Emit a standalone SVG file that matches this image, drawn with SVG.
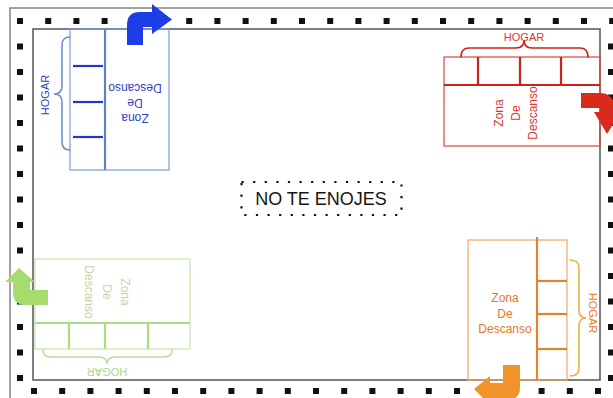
<svg xmlns="http://www.w3.org/2000/svg" width="613" height="398" viewBox="0 0 613 398">
<defs>
<style>
text{font-family:"Liberation Sans","Open Sans",Arial,sans-serif}
.dot{fill:#111}
.frame{fill:none;stroke:#8a8a8a;stroke-width:1.6}
.inner{fill:none;stroke:#555;stroke-width:1.5}
.lbl{font-size:12px;text-anchor:middle;dominant-baseline:central}
.hog{font-size:11px;text-anchor:middle;dominant-baseline:central}
.thin{fill:none;stroke-width:1.2}
.thick{fill:none;stroke-width:2.2}
.brace{fill:none;stroke-width:1.6;stroke-linecap:round}
</style>
<rect id="d" x="-3" y="-3" width="6" height="6" class="dot"/>
</defs>
<rect x="0" y="0" width="613" height="398" fill="#fff"/>
<g id="frame">
<rect x="10" y="8" width="620" height="420" class="frame"/>
<rect x="33" y="29" width="567" height="351" class="inner"/>
<g id="dots-top">
<use href="#d" x="20" y="21"/><use href="#d" x="48.2" y="21"/><use href="#d" x="76.4" y="21"/><use href="#d" x="104.6" y="21"/><use href="#d" x="132.8" y="21"/><use href="#d" x="161" y="21"/><use href="#d" x="189.2" y="21"/><use href="#d" x="217.4" y="21"/><use href="#d" x="245.6" y="21"/><use href="#d" x="273.8" y="21"/><use href="#d" x="302" y="21"/><use href="#d" x="330.2" y="21"/><use href="#d" x="358.4" y="21"/><use href="#d" x="386.6" y="21"/><use href="#d" x="414.8" y="21"/><use href="#d" x="443" y="21"/><use href="#d" x="471.2" y="21"/><use href="#d" x="499.4" y="21"/><use href="#d" x="527.6" y="21"/><use href="#d" x="555.8" y="21"/><use href="#d" x="584" y="21"/><use href="#d" x="612.2" y="21"/>
</g>
<g id="dots-left">
<use href="#d" x="20" y="46.5"/><use href="#d" x="20" y="72"/><use href="#d" x="20" y="97.5"/><use href="#d" x="20" y="123"/><use href="#d" x="20" y="148.5"/><use href="#d" x="20" y="174"/><use href="#d" x="20" y="199.5"/><use href="#d" x="20" y="225"/><use href="#d" x="20" y="250.5"/><use href="#d" x="20" y="276"/><use href="#d" x="20" y="301.5"/><use href="#d" x="20" y="327"/><use href="#d" x="20" y="352.5"/><use href="#d" x="20" y="378"/>
</g>
<g id="dots-right">
<use href="#d" x="611" y="46.5"/><use href="#d" x="611" y="72"/><use href="#d" x="611" y="97.5"/><use href="#d" x="611" y="123"/><use href="#d" x="611" y="148.5"/><use href="#d" x="611" y="174"/><use href="#d" x="611" y="199.5"/><use href="#d" x="611" y="225"/><use href="#d" x="611" y="250.5"/><use href="#d" x="611" y="276"/><use href="#d" x="611" y="301.5"/><use href="#d" x="611" y="327"/><use href="#d" x="611" y="352.5"/><use href="#d" x="611" y="378"/>
</g>
<g id="dots-bottom">
<use href="#d" x="34" y="391"/><use href="#d" x="62.2" y="391"/><use href="#d" x="90.4" y="391"/><use href="#d" x="118.6" y="391"/><use href="#d" x="146.8" y="391"/><use href="#d" x="175" y="391"/><use href="#d" x="203.2" y="391"/><use href="#d" x="231.4" y="391"/><use href="#d" x="259.6" y="391"/><use href="#d" x="287.8" y="391"/><use href="#d" x="316" y="391"/><use href="#d" x="344.2" y="391"/><use href="#d" x="372.4" y="391"/><use href="#d" x="400.6" y="391"/><use href="#d" x="428.8" y="391"/><use href="#d" x="457" y="391"/><use href="#d" x="485.2" y="391"/><use href="#d" x="513.4" y="391"/><use href="#d" x="541.6" y="391"/><use href="#d" x="569.8" y="391"/><use href="#d" x="598" y="391"/>
</g>
</g>

<g id="node-blue">
<rect x="70" y="29" width="99" height="141" class="thin" stroke="#7b9bd6"/>
<line x1="105" y1="29" x2="105" y2="170" class="thick" stroke="#5f82c2"/>
<line x1="73" y1="66" x2="103" y2="66" class="thick" stroke="#2436c8"/>
<line x1="73" y1="102" x2="103" y2="102" class="thick" stroke="#2436c8"/>
<line x1="73" y1="137" x2="103" y2="137" class="thick" stroke="#2436c8"/>
<path d="M70,37 Q62,37 62,45 L62,86 Q62,94 54,94 Q62,94 62,102 L62,142 Q62,150 70,150" class="brace" stroke="#6f8fcc"/>
<text class="hog" x="45" y="95" fill="#2f3fc0" transform="rotate(-90 45 95)">HOGAR</text>
<text class="lbl" fill="#2f3fc0" transform="rotate(180 135 103)"><tspan x="135" y="88">Zona</tspan><tspan x="135" y="103">De</tspan><tspan x="135" y="118">Descanso</tspan></text>
</g>

<g id="node-red">
<rect x="444" y="57" width="156" height="89" class="thin" stroke="#d8463e"/>
<line x1="444" y1="85" x2="600" y2="85" class="thick" stroke="#c9231c"/>
<line x1="478" y1="57" x2="478" y2="85" class="thick" stroke="#c9231c"/>
<line x1="520" y1="57" x2="520" y2="85" class="thick" stroke="#c9231c"/>
<line x1="561" y1="57" x2="561" y2="85" class="thick" stroke="#c9231c"/>
<path d="M461,57 Q461,48 469,48 L516,48 Q524,48 524,40 Q524,48 532,48 L580,48 Q588,48 588,57" class="brace" stroke="#c9231c"/>
<text class="hog" x="524" y="37" fill="#d83a30">HOGAR</text>
<text class="lbl" fill="#d83a30" transform="rotate(-90 516 113)"><tspan x="516" y="96">Zona</tspan><tspan x="516" y="113">De</tspan><tspan x="516" y="130">Descanso</tspan></text>
</g>

<g id="node-orange">
<rect x="468" y="240" width="99" height="140" class="thin" stroke="#f0a868"/>
<line x1="537" y1="237" x2="537" y2="380" class="thick" stroke="#e0852a"/>
<line x1="537" y1="281" x2="567" y2="281" class="thick" stroke="#e0852a"/>
<line x1="537" y1="314" x2="567" y2="314" class="thick" stroke="#e0852a"/>
<line x1="537" y1="349" x2="567" y2="349" class="thick" stroke="#e0852a"/>
<path d="M570,260 Q579,260 579,268 L579,310 Q579,318 586,318 Q579,318 579,326 L579,368 Q579,376 570,376" class="brace" stroke="#f0b040"/>
<text class="hog" x="593" y="313" fill="#e8762a" transform="rotate(90 593 313)">HOGAR</text>
<text class="lbl" fill="#e8762a"><tspan x="505" y="298">Zona</tspan><tspan x="505" y="313.5">De</tspan><tspan x="505" y="329">Descanso</tspan></text>
</g>

<g id="node-green">
<rect x="35" y="259" width="155" height="90" class="thin" stroke="#c4e6a8"/>
<line x1="35" y1="323" x2="190" y2="323" class="thick" stroke="#aadc80"/>
<line x1="69" y1="323" x2="69" y2="349" class="thick" stroke="#aadc80"/>
<line x1="105" y1="323" x2="105" y2="349" class="thick" stroke="#aadc80"/>
<line x1="148" y1="323" x2="148" y2="349" class="thick" stroke="#aadc80"/>
<path d="M43,350 Q43,357 51,357 L99,357 Q107,357 107,364 Q107,357 115,357 L164,357 Q172,357 172,350" class="brace" stroke="#b8e09a"/>
<text class="hog" x="107" y="372" fill="#a8d880" transform="rotate(180 107 372)">HOGAR</text>
<text class="lbl" fill="#c8d6a6" transform="rotate(90 107 292)"><tspan x="107" y="274">Zona</tspan><tspan x="107" y="292">De</tspan><tspan x="107" y="310">Descanso</tspan></text>
</g>

<g id="node-title">
<rect x="241.5" y="182" width="160" height="33" fill="none" stroke="#111" stroke-width="2.2" stroke-dasharray="2.2 9.4"/>
<text x="321" y="205" font-size="18" text-anchor="middle" fill="#151515">NO TE ENOJES</text>
</g>

<g id="connectors">
<path id="arrow-blue" d="M127,45 L127,25 Q127,12 140,12 L152,12 L152,4 L172,19.5 L152,34 L152,27 L143,27 L143,45 Z" fill="#1d3de6"/>
<path id="arrow-red" d="M581,93 L600,93 Q614,93 614,107 L614,112 L621,112 L607,134 L594,112 L600,112 L600,108 L581,108 Z" fill="#d92a1c"/>
<path id="arrow-orange" d="M503,365 L520,365 L520,387 Q520,400 507,400 L490,400 L490,405 L474,389 L490,376 L490,383 L503,383 Z" fill="#f0942a"/>
<path id="arrow-green" d="M48,290 L30,290 L30,282 L35,282 L19,268 L5,282 L13,282 L13,293 Q13,305 26,305 L48,305 Z" fill="#a4dc6e"/>
</g>
</svg>
